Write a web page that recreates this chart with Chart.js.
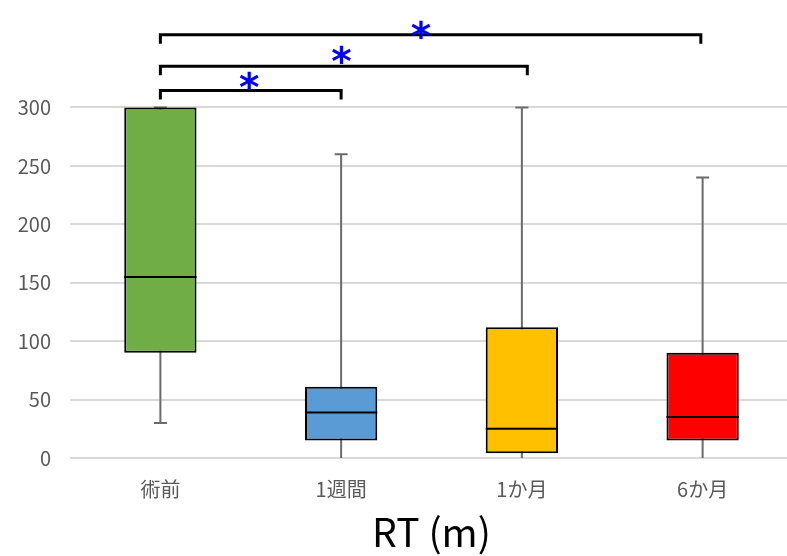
<!DOCTYPE html>
<html>
<head>
<meta charset="utf-8">
<script src="https://cdn.jsdelivr.net/npm/chart.js@4"></script>
<style>
  html, body { margin: 0; padding: 0; background: #fff; overflow: hidden; }
  #c { display: block; }
</style>
</head>
<body>
<canvas id="c" width="793" height="556"></canvas>
<script>
// Box plot of RT (minutes) by time point
const categories = ['術前', '1週間', '1か月', '6か月'];
const whiskerLow  = [30, 0, 0, 0];
const q1          = [90, 15, 4, 15];
const median      = [155, 39, 25, 35];
const q3          = [300, 61, 112, 90];
const whiskerHigh = [300, 260, 300, 240];
const boxColors   = ['#70AD47', '#5B9BD5', '#FFC000', '#FF0000'];

// y axis
const yMin = 0, yMax = 392, yTickStep = 50, yTickLast = 300;

// significance brackets (category units for x, data units for y)
const bracketFrom  = [0, 0, 0];
const bracketTo    = [1, 2.03, 2.99];
const bracketLevel = [314.5, 335.3, 362.3];
const starX        = [0.49, 1.0, 1.44];
const starY        = [323, 345, 367];
const starText     = ['*', '*', '*'];

const FONT = '"Noto Sans CJK JP", "Noto Sans", sans-serif';

const boxPlotExtras = {
  id: 'boxPlotExtras',
  beforeDatasetsDraw(chart) {
    const { ctx, scales: { x, y } } = chart;
    ctx.save();
    ctx.strokeStyle = '#6b6b6b';
    ctx.lineWidth = 2;
    categories.forEach((c, i) => {
      const cx = x.getPixelForValue(i);
      const yl = y.getPixelForValue(whiskerLow[i]);
      const yh = y.getPixelForValue(whiskerHigh[i]);
      ctx.beginPath();
      ctx.moveTo(cx, yl);
      ctx.lineTo(cx, yh);
      if (whiskerLow[i] > yMin) { ctx.moveTo(cx - 6.5, yl); ctx.lineTo(cx + 6.5, yl); }
      ctx.moveTo(cx - 6.5, yh); ctx.lineTo(cx + 6.5, yh);
      ctx.stroke();
    });
    ctx.restore();
  },
  afterDatasetsDraw(chart) {
    const { ctx, scales: { x, y } } = chart;
    const bars = chart.getDatasetMeta(0).data;
    ctx.save();
    // medians
    ctx.strokeStyle = '#000';
    ctx.lineWidth = 2;
    bars.forEach((el, i) => {
      const ym = y.getPixelForValue(median[i]);
      ctx.beginPath();
      ctx.moveTo(el.x - el.width / 2, ym);
      ctx.lineTo(el.x + el.width / 2, ym);
      ctx.stroke();
    });
    // brackets
    ctx.lineWidth = 3;
    ctx.lineJoin = 'miter';
    bracketLevel.forEach((lv, i) => {
      const x1 = x.getPixelForValue(bracketFrom[i]);
      const x2 = x.getPixelForValue(bracketTo[i]);
      const yb = y.getPixelForValue(lv);
      ctx.beginPath();
      ctx.moveTo(x1, yb + 9);
      ctx.lineTo(x1, yb);
      ctx.lineTo(x2, yb);
      ctx.lineTo(x2, yb + 9);
      ctx.stroke();
    });
    // stars
    ctx.fillStyle = '#0000FF';
    ctx.textAlign = 'left';
    ctx.textBaseline = 'alphabetic';
    ctx.font = 'bold 100px "DejaVu Sans"';
    const m0 = ctx.measureText('*');
    const w0 = m0.actualBoundingBoxRight + m0.actualBoundingBoxLeft;
    const size = Math.round(100 * 19 / w0);
    ctx.font = 'bold ' + size + 'px "DejaVu Sans"';
    starText.forEach((t, i) => {
      const m = ctx.measureText(t);
      const cx = x.getPixelForValue(starX[i]);
      const cy = y.getPixelForValue(starY[i]);
      const dx = (m.actualBoundingBoxRight - m.actualBoundingBoxLeft) / 2;
      const dy = (m.actualBoundingBoxDescent - m.actualBoundingBoxAscent) / 2;
      ctx.fillText(t, cx - dx, cy - dy);
    });
    ctx.restore();
  }
};

new Chart(document.getElementById('c'), {
  type: 'bar',
  data: {
    labels: categories,
    datasets: [{
      data: categories.map((_, i) => [q1[i], q3[i]]),
      backgroundColor: boxColors,
      borderColor: '#000',
      borderWidth: 2,
      borderSkipped: false,
      barPercentage: 0.4,
      categoryPercentage: 1
    }]
  },
  options: {
    responsive: false,
    animation: false,
    devicePixelRatio: 1,
    layout: { padding: 0 },
    plugins: { legend: { display: false }, tooltip: { enabled: false } },
    scales: {
      x: {
        grid: { display: false, drawTicks: false },
        border: { display: false },
        ticks: { color: '#595959', font: { family: FONT, size: 20 }, padding: 19 },
        title: { display: true, text: 'RT (m)', color: '#000', font: { family: FONT, size: 39 }, padding: 0 },
        afterFit(s) { s.height = 98; s.paddingLeft = 0; s.paddingRight = 0; }
      },
      y: {
        min: yMin,
        max: yMax,
        grid: { color: '#d9d9d9', lineWidth: 2, drawTicks: false },
        border: { display: false },
        ticks: { stepSize: yTickStep, color: '#595959', font: { family: FONT, size: 20 }, padding: 19 },
        afterBuildTicks(s) { s.ticks = s.ticks.filter(t => t.value <= yTickLast); },
        afterFit(s) { s.width = 70; s.paddingTop = 0; s.paddingBottom = 0; }
      }
    }
  },
  plugins: [boxPlotExtras]
});
</script>
</body>
</html>
